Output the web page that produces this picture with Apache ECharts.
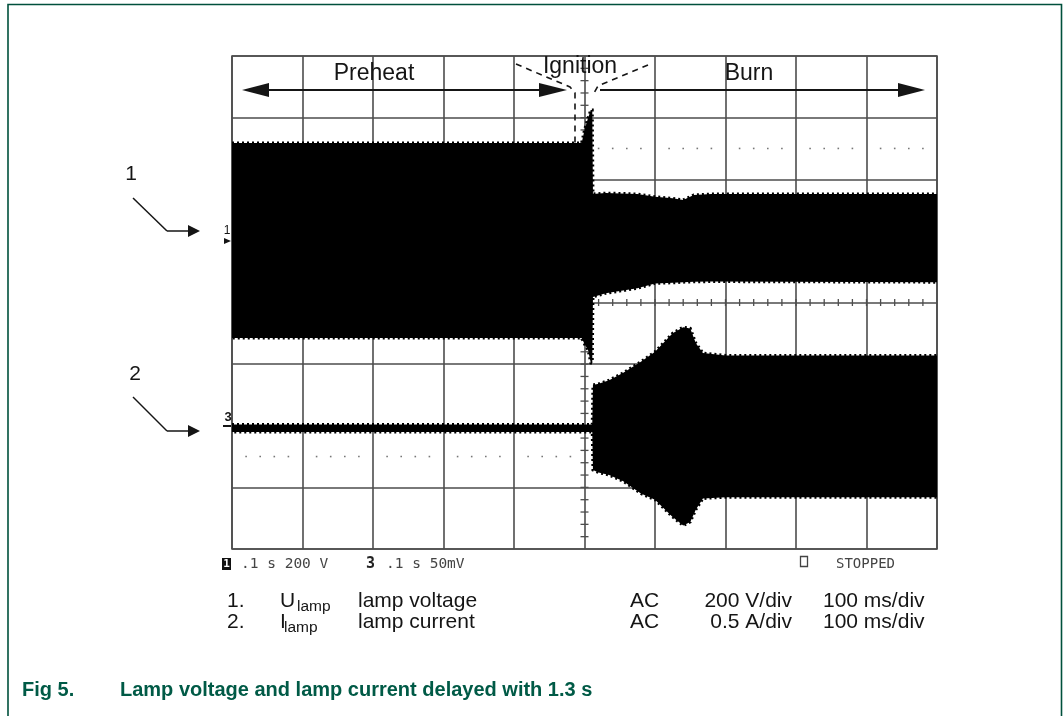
<!DOCTYPE html>
<html>
<head>
<meta charset="utf-8">
<script src="https://cdn.jsdelivr.net/npm/echarts@6/dist/echarts.min.js"></script>
<style>
html, body { margin: 0; padding: 0; background: #fff; }
#chart { width: 1063px; height: 716px; }
</style>
</head>
<body>
<div id="chart"></div>
<script>
// scope trace envelopes, time in ms (100 ms/div)
// channel 1: lamp voltage, V (200 V/div)
const voltTime   = [0, 496, 500, 505, 509, 511, 512, 530, 550, 575, 600, 625, 640, 655, 680, 1000];
const voltTop    = [318, 318, 360, 399, 425, 425, 152, 155, 154, 152, 143, 138, 133, 149, 152, 152];
const voltBottom = [-315, -315, -335, -354, -396, -396, -182, -170, -163, -154, -138, -136, -134, -133, -132, -134];
// channel 2: lamp current, A (0.5 A/div)
const currTime   = [0, 511, 512, 520, 535, 555, 580, 600, 625, 640, 650, 658, 668, 700, 1000];
const currTop    = [0.01, 0.01, 0.33, 0.34, 0.37, 0.43, 0.52, 0.60, 0.75, 0.80, 0.79, 0.67, 0.59, 0.57, 0.57];
const currBottom = [-0.05, -0.05, -0.36, -0.38, -0.40, -0.45, -0.55, -0.60, -0.74, -0.81, -0.78, -0.68, -0.59, -0.58, -0.58];

const FONT = '"Liberation Sans", Arial, sans-serif';
const MONO = '"DejaVu Sans Mono", monospace';
const GRID_COLOR = '#4d4d4d';
const INK = '#151515';

const chart = echarts.init(document.getElementById('chart'));

// filled envelope drawn as one polygon through the axis scales
function bandSeries(name, yAxisIndex, t, top, bot) {
    return {
        type: 'custom',
        name: name,
        xAxisIndex: 0,
        yAxisIndex: yAxisIndex,
        clip: true,
        z: 5,
        silent: true,
        data: t.map((v, i) => [v, top[i], bot[i]]),
        encode: { x: 0, y: [1, 2] },
        renderItem(params, api) {
            if (params.dataIndex !== 0) return null;
            const pts = [];
            for (let i = 0; i < t.length; i++) pts.push(api.coord([t[i], top[i]]));
            for (let i = t.length - 1; i >= 0; i--) pts.push(api.coord([t[i], bot[i]]));
            return {
                type: 'polygon',
                shape: { points: pts },
                style: { fill: '#000', stroke: '#000', lineWidth: 3, lineDash: [2, 3] }
            };
        }
    };
}

// centre cross ticks and dotted rows of the scope graticule
const scopeMarks = {
    type: 'custom',
    xAxisIndex: 0,
    yAxisIndex: 0,
    z: 3,
    silent: true,
    data: [[0, 0]],
    renderItem(params, api) {
        const kids = [];
        for (let k = 1; k < 50; k++) {
            const p = api.coord([k * 20, 0]);
            kids.push({ type: 'line', shape: { x1: p[0], y1: p[1] - 3.5, x2: p[0], y2: p[1] + 3.5 },
                style: { stroke: GRID_COLOR, lineWidth: 1.3 } });
        }
        for (let k = -19; k < 20; k++) {
            if (k === 0) continue;
            const p = api.coord([500, k * 0.2]);
            kids.push({ type: 'line', shape: { x1: p[0] - 4, y1: p[1], x2: p[0] + 4, y2: p[1] },
                style: { stroke: GRID_COLOR, lineWidth: 1.3 } });
        }
        [2.5, -2.5].forEach(d => {
            for (let k = 1; k < 50; k++) {
                if (k % 5 === 0) continue;
                const p = api.coord([k * 20, d]);
                kids.push({ type: 'rect', shape: { x: p[0] - 0.8, y: p[1] - 0.8, width: 1.6, height: 1.6 },
                    style: { fill: '#777' } });
            }
        });
        return { type: 'group', children: kids };
    }
};

const hiddenAxis = { type: 'value', show: false, splitLine: { show: false } };

chart.setOption({
    animation: false,
    backgroundColor: '#fff',
    grid: { left: 232, top: 56, width: 705, height: 493, show: true, borderColor: GRID_COLOR, borderWidth: 1.6 },
    xAxis: [{
        type: 'value', min: 0, max: 1000, interval: 100,
        axisLabel: { show: false }, axisTick: { show: false }, axisLine: { show: false },
        splitLine: { show: true, lineStyle: { color: GRID_COLOR, width: 1.6 } }
    }],
    yAxis: [
        {
            type: 'value', min: -4, max: 4, interval: 1,
            axisLabel: { show: false }, axisTick: { show: false }, axisLine: { show: false },
            splitLine: { show: true, lineStyle: { color: GRID_COLOR, width: 1.6 } }
        },
        Object.assign({ min: -1000, max: 600, interval: 200 }, hiddenAxis),
        Object.assign({ min: -1, max: 3, interval: 0.5 }, hiddenAxis)
    ],
    series: [
        scopeMarks,
        bandSeries('Ulamp', 1, voltTime, voltTop, voltBottom),
        bandSeries('Ilamp', 2, currTime, currTop, currBottom)
    ]
});

function text(str, x, y, font, opts) {
    return {
        type: 'text', z: 10, silent: true,
        style: Object.assign({
            text: str, x: x, y: y, font: font, fill: INK,
            textAlign: 'left', textVerticalAlign: 'middle', verticalAlign: 'middle'
        }, opts || {})
    };
}
function line(x1, y1, x2, y2, w, dash) {
    return { type: 'line', z: 10, silent: true, shape: { x1, y1, x2, y2 },
        style: { stroke: INK, lineWidth: w || 2, lineDash: dash || null } };
}
function arrowHead(tipX, tipY, dir, len, half) {
    const bx = tipX - dir * len;
    return { type: 'polygon', z: 10, silent: true,
        shape: { points: [[tipX, tipY], [bx, tipY - half], [bx, tipY + half]] }, style: { fill: INK } };
}
function dashed(points) {
    return { type: 'polyline', z: 10, silent: true, shape: { points },
        style: { stroke: INK, lineWidth: 1.6, lineDash: [6, 5], fill: null } };
}

const frame = '#00503c';
const graphics = [
    // figure frame
    { type: 'polyline', silent: true, shape: { points: [[8, 716], [8, 4.5], [1061.5, 4.5], [1061.5, 716]] },
      style: { stroke: frame, lineWidth: 1.6, fill: null } },

    // phase annotations
    text('Preheat', 374, 74, '23px ' + FONT, { textAlign: 'center' }),
    text('Ignition', 580, 67, '23px ' + FONT, { textAlign: 'center' }),
    text('Burn', 749, 74, '23px ' + FONT, { textAlign: 'center' }),
    line(255, 90, 550, 90),
    arrowHead(242, 90, -1, 27, 7),
    arrowHead(567, 90, 1, 28, 7),
    line(600, 90, 905, 90),
    arrowHead(925, 90, 1, 27, 7),
    dashed([[516, 64], [570, 87], [575, 93], [575, 143]]),
    dashed([[648, 65], [598, 86], [594, 93]]),

    // trace callouts
    text('1', 131, 174, '21px ' + FONT, { textAlign: 'center' }),
    line(133, 198, 167, 231, 1.5),
    line(167, 231, 190, 231, 1.5),
    arrowHead(200, 231, 1, 12, 6),
    text('2', 135, 374, '21px ' + FONT, { textAlign: 'center' }),
    line(133, 397, 167, 431, 1.5),
    line(167, 431, 190, 431, 1.5),
    arrowHead(200, 431, 1, 12, 6),

    // scope channel markers
    text('1', 227, 231, '12px ' + FONT, { textAlign: 'center' }),
    { type: 'polygon', silent: true, z: 10, shape: { points: [[224, 238], [231, 241], [224, 244]] }, style: { fill: INK } },
    text('3', 228, 417, 'bold 13px ' + FONT, { textAlign: 'center' }),
    line(223, 426, 231, 426, 2),

    // scope status line
    { type: 'rect', silent: true, z: 10, shape: { x: 222, y: 558, width: 9, height: 12 }, style: { fill: '#111' } },
    text('1', 226.5, 564, 'bold 11px ' + MONO, { textAlign: 'center', fill: '#fff' }),
    text('.1 s 200 V', 241, 564, '14.5px ' + MONO, { fill: '#444' }),
    text('3', 370.5, 564, 'bold 15px ' + MONO, { textAlign: 'center', fill: '#222' }),
    text('.1 s 50mV', 386, 564, '14.5px ' + MONO, { fill: '#444' }),
    { type: 'rect', silent: true, z: 10, shape: { x: 800.5, y: 556.5, width: 7, height: 10 },
      style: { fill: null, stroke: '#444', lineWidth: 1.3 } },
    text('STOPPED', 836, 564, '14px ' + MONO, { fill: '#444' }),

    // channel legend
    text('1.', 227, 601, '21px ' + FONT),
    text('U', 280, 601, '21px ' + FONT),
    text('lamp', 297, 607, '15.5px ' + FONT),
    text('lamp voltage', 358, 601, '21px ' + FONT),
    text('AC', 630, 601, '21px ' + FONT),
    text('200 V/div', 792, 601, '21px ' + FONT, { textAlign: 'right' }),
    text('100 ms/div', 823, 601, '21px ' + FONT),
    text('2.', 227, 622, '21px ' + FONT),
    text('I', 280, 622, '21px ' + FONT),
    text('lamp', 284, 628, '15.5px ' + FONT),
    text('lamp current', 358, 622, '21px ' + FONT),
    text('AC', 630, 622, '21px ' + FONT),
    text('0.5 A/div', 792, 622, '21px ' + FONT, { textAlign: 'right' }),
    text('100 ms/div', 823, 622, '21px ' + FONT),

    // caption
    text('Fig 5.', 22, 690, 'bold 20px ' + FONT, { fill: '#005a46' }),
    text('Lamp voltage and lamp current delayed with 1.3 s', 120, 690, 'bold 20px ' + FONT, { fill: '#005a46' })
];

chart.setOption({ graphic: graphics });
</script>
</body>
</html>
